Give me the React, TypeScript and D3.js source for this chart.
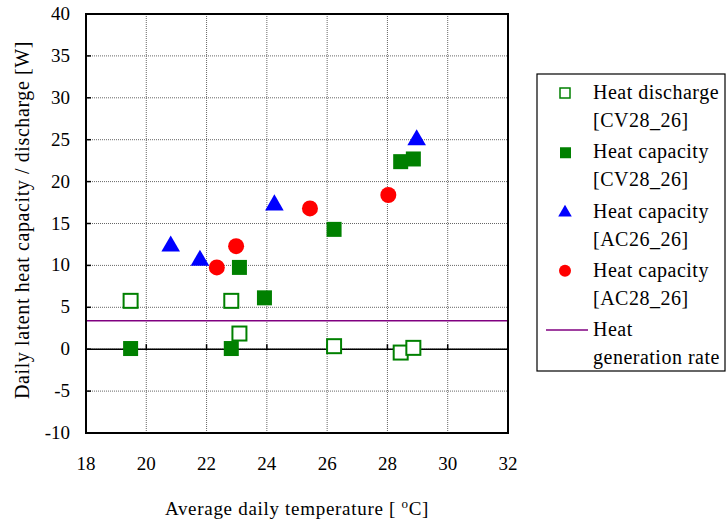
import { useEffect, useRef } from 'react';
import * as d3 from 'd3';

// heat discharge [CV28_26] (open squares)
const dischargeCV = [
  [19.48, 5.77], [22.82, 5.77], [23.09, 1.87], [26.23, 0.36], [28.44, -0.4], [28.86, 0.16],
];
// heat capacity [CV28_26] (filled squares)
const capacityCV = [
  [19.48, 0.08], [22.82, 0.08], [23.09, 9.76], [23.92, 6.13], [26.23, 14.3], [28.44, 22.38], [28.86, 22.7],
];
// heat capacity [AC26_26] (triangles)
const capacityAC26 = [
  [20.81, 12.3], [21.78, 10.6], [24.25, 17.2], [28.97, 24.97],
];
// heat capacity [AC28_26] (circles)
const capacityAC28 = [
  [22.34, 9.76], [22.98, 12.3], [25.43, 16.8], [28.03, 18.4],
];
const heatGenerationRate = 3.4;

const xTicks = [18, 20, 22, 24, 26, 28, 30, 32];
const yTicks = [-10, -5, 0, 5, 10, 15, 20, 25, 30, 35, 40];

const legendItems = [
  { key: 'open', lines: ['Heat discharge', '[CV28_26]'] },
  { key: 'square', lines: ['Heat capacity', '[CV28_26]'] },
  { key: 'triangle', lines: ['Heat capacity', '[AC26_26]'] },
  { key: 'circle', lines: ['Heat capacity', '[AC28_26]'] },
  { key: 'line', lines: ['Heat', 'generation rate'] },
];

const FONT = 'Liberation Serif';
const GREEN = '#008000';

function App() {
  const ref = useRef<SVGSVGElement>(null);

  useEffect(() => {
    const svg = d3.select(ref.current);
    svg.selectAll('*').remove();

    const left = 86, right = 508, top = 14, bottom = 433;
    const x = d3.scaleLinear().domain([18, 32]).range([left, right]);
    const y = d3.scaleLinear().domain([-10, 40]).range([bottom, top]);

    // grid
    const grid = svg.append('g');
    grid.selectAll('.gx').data(xTicks.slice(1, -1)).enter().append('line')
      .attr('x1', (d) => x(d)).attr('x2', (d) => x(d))
      .attr('y1', top).attr('y2', bottom)
      .attr('stroke', '#666').attr('stroke-width', 1).attr('stroke-dasharray', '1,1');
    grid.selectAll('.gy').data(yTicks.slice(1, -1)).enter().append('line')
      .attr('x1', left).attr('x2', right)
      .attr('y1', (d) => y(d)).attr('y2', (d) => y(d))
      .attr('stroke', '#666').attr('stroke-width', 1).attr('stroke-dasharray', '1,1');

    // zero line with ticks
    svg.append('line')
      .attr('x1', left).attr('x2', right).attr('y1', y(0)).attr('y2', y(0))
      .attr('stroke', '#000').attr('stroke-width', 1.5);
    svg.selectAll('.zt').data(xTicks.slice(1)).enter().append('line')
      .attr('x1', (d) => x(d)).attr('x2', (d) => x(d))
      .attr('y1', y(0)).attr('y2', y(0) - 5)
      .attr('stroke', '#000').attr('stroke-width', 1.5);

    // y ticks inward
    svg.selectAll('.yt').data(yTicks).enter().append('line')
      .attr('x1', left).attr('x2', left + 5)
      .attr('y1', (d) => y(d)).attr('y2', (d) => y(d))
      .attr('stroke', '#000').attr('stroke-width', 1.5);

    // heat generation rate
    svg.append('line')
      .attr('x1', left).attr('x2', right)
      .attr('y1', y(heatGenerationRate)).attr('y2', y(heatGenerationRate))
      .attr('stroke', '#800080').attr('stroke-width', 1.5);

    // frame
    svg.append('rect')
      .attr('x', left).attr('y', top).attr('width', right - left).attr('height', bottom - top)
      .attr('fill', 'none').attr('stroke', '#000').attr('stroke-width', 2);

    // tick labels
    svg.selectAll('.yl').data(yTicks).enter().append('text')
      .attr('x', 70).attr('y', (d) => y(d) + 6)
      .attr('text-anchor', 'end')
      .style('font-family', FONT).attr('font-size', 19)
      .text((d) => d);
    svg.selectAll('.xl').data(xTicks).enter().append('text')
      .attr('x', (d) => x(d)).attr('y', 470)
      .attr('text-anchor', 'middle')
      .style('font-family', FONT).attr('font-size', 19)
      .text((d) => d);

    // axis titles
    const xt = svg.append('text')
      .attr('x', 297).attr('y', 515)
      .attr('text-anchor', 'middle')
      .style('font-family', FONT).attr('font-size', 19)
      .attr('letter-spacing', 0.7);
    xt.append('tspan').text('Average daily temperature [ ');
    xt.append('tspan').attr('dy', -7).attr('font-size', 13).text('o');
    xt.append('tspan').attr('dy', 7).text('C]');

    svg.append('text')
      .attr('transform', `translate(29,220) rotate(-90)`)
      .attr('text-anchor', 'middle')
      .style('font-family', FONT).attr('font-size', 20)
      .attr('letter-spacing', 0.6)
      .text('Daily latent heat capacity / discharge [W]');

    // markers
    const sq = 15;
    svg.append('g').selectAll('rect').data(dischargeCV).enter().append('rect')
      .attr('x', (d) => x(d[0]) - 7).attr('y', (d) => y(d[1]) - 7)
      .attr('width', 14).attr('height', 14)
      .attr('fill', '#fff').attr('stroke', GREEN).attr('stroke-width', 2);
    svg.append('g').selectAll('rect').data(capacityCV).enter().append('rect')
      .attr('x', (d) => x(d[0]) - sq / 2).attr('y', (d) => y(d[1]) - sq / 2)
      .attr('width', sq).attr('height', sq)
      .attr('fill', GREEN);
    const tri = d3.symbol().type(d3.symbolTriangle).size(150);
    svg.append('g').selectAll('path').data(capacityAC26).enter().append('path')
      .attr('d', tri)
      .attr('transform', (d) => `translate(${x(d[0])},${y(d[1])})`)
      .attr('fill', '#0000ff');
    svg.append('g').selectAll('circle').data(capacityAC28).enter().append('circle')
      .attr('cx', (d) => x(d[0])).attr('cy', (d) => y(d[1])).attr('r', 8)
      .attr('fill', '#ff0000');

    // legend
    const lg = svg.append('g');
    lg.append('rect')
      .attr('x', 537).attr('y', 74).attr('width', 188).attr('height', 297)
      .attr('fill', '#fff').attr('stroke', '#000').attr('stroke-width', 1.2);
    const rowY = d3.scaleLinear().domain([0, 4]).range([93, 330]);
    legendItems.forEach((item, i) => {
      const cy = rowY(i);
      const g = lg.append('g');
      if (item.key === 'open') {
        g.append('rect').attr('x', 560).attr('y', cy - 5).attr('width', 10).attr('height', 10)
          .attr('fill', '#fff').attr('stroke', GREEN).attr('stroke-width', 1.5);
      } else if (item.key === 'square') {
        g.append('rect').attr('x', 560).attr('y', cy - 5).attr('width', 11).attr('height', 11)
          .attr('fill', GREEN);
      } else if (item.key === 'triangle') {
        g.append('path').attr('d', d3.symbol().type(d3.symbolTriangle).size(80)())
          .attr('transform', `translate(565,${cy + 1})`).attr('fill', '#0000ff');
      } else if (item.key === 'circle') {
        g.append('circle').attr('cx', 565).attr('cy', cy).attr('r', 6).attr('fill', '#ff0000');
      } else {
        g.append('line').attr('x1', 546).attr('x2', 588).attr('y1', cy).attr('y2', cy)
          .attr('stroke', '#800080').attr('stroke-width', 1.5);
      }
      item.lines.forEach((t, j) => {
        g.append('text')
          .attr('x', 593).attr('y', cy + 6 + j * 28)
          .style('font-family', FONT).attr('font-size', 20)
          .attr('letter-spacing', 0.5)
          .text(t);
      });
    });
  }, []);

  return <svg ref={ref} width={726} height={524} style={{ display: 'block', position: 'absolute', left: 0, top: 0 }}></svg>;
}

export default App;
